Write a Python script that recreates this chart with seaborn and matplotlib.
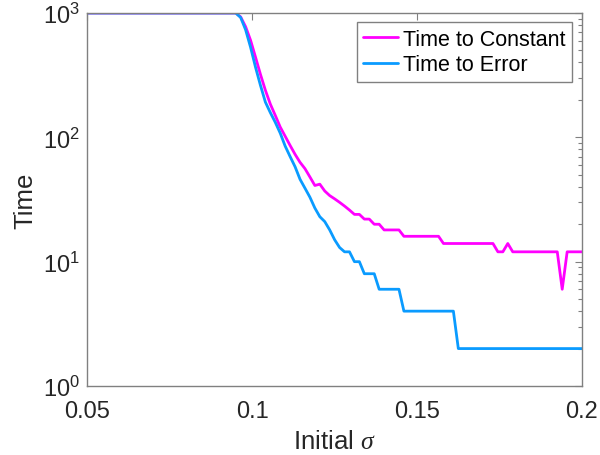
import numpy as np
import pandas as pd
import matplotlib
matplotlib.use("Agg")
import matplotlib.pyplot as plt
import matplotlib.ticker as mticker
import seaborn as sns

# Initial sigma values of the sweep (101 runs from 0.05 to 0.2)
sigma = np.linspace(0.05, 0.2, 101)

# Steps until the state stops changing
time_to_constant = [
    1000, 1000, 1000, 1000, 1000, 1000, 1000, 1000, 1000, 1000,
    1000, 1000, 1000, 1000, 1000, 1000, 1000, 1000, 1000, 1000,
    1000, 1000, 1000, 1000, 1000, 1000, 1000, 1000, 1000, 1000,
    1000, 930, 776, 604, 442, 321, 239, 185, 150, 121,
    102, 86, 73, 63, 56, 48, 41, 42, 37, 34,
    32, 30, 28, 26, 24, 24, 22, 22, 20, 20,
    18, 18, 18, 18, 16, 16, 16, 16, 16, 16,
    16, 16, 14, 14, 14, 14, 14, 14, 14, 14,
    14, 14, 14, 12, 12, 14, 12, 12, 12, 12,
    12, 12, 12, 12, 12, 12, 6, 12, 12, 12,
    12,
]

# Steps until the error threshold is reached
time_to_error = [
    1000, 1000, 1000, 1000, 1000, 1000, 1000, 1000, 1000, 1000,
    1000, 1000, 1000, 1000, 1000, 1000, 1000, 1000, 1000, 1000,
    1000, 1000, 1000, 1000, 1000, 1000, 1000, 1000, 1000, 1000,
    1000, 920, 733, 531, 367, 262, 192, 158, 132, 108,
    85, 70, 58, 46, 39, 33, 27, 23, 21, 18,
    15, 13, 12, 12, 10, 10, 8, 8, 8, 6,
    6, 6, 6, 6, 4, 4, 4, 4, 4, 4,
    4, 4, 4, 4, 4, 2, 2, 2, 2, 2,
    2, 2, 2, 2, 2, 2, 2, 2, 2, 2,
    2, 2, 2, 2, 2, 2, 2, 2, 2, 2,
    2,
]

series_names = ["Time to Constant", "Time to Error"]
series_colors = ["#FF00FF", "#0A9BFF"]
x_ticks = [0.05, 0.1, 0.15, 0.2]
x_tick_labels = ["0.05", "0.1", "0.15", "0.2"]

df = pd.concat([
    pd.DataFrame({"sigma": sigma, "time": time_to_constant, "series": series_names[0]}),
    pd.DataFrame({"sigma": sigma, "time": time_to_error, "series": series_names[1]}),
], ignore_index=True)

sns.set_theme(style="white")
plt.rcParams["font.family"] = ["Liberation Sans", "DejaVu Sans"]
plt.rcParams["mathtext.fontset"] = "custom"
plt.rcParams["mathtext.rm"] = "Liberation Sans"
plt.rcParams["mathtext.it"] = "Liberation Serif:italic"
plt.rcParams["mathtext.default"] = "it"

fig = plt.figure(figsize=(6.0, 4.56), dpi=100)
ax = fig.add_axes([0.1455, 0.1513, 0.8245, 0.818])

sns.lineplot(
    data=df, x="sigma", y="time", hue="series",
    hue_order=series_names, palette=series_colors,
    estimator=None, sort=False, linewidth=2.0, ax=ax,
)

ax.set_yscale("log")
ax.set_xlim(0.05, 0.2)
ax.set_ylim(1, 1000)
ax.set_xticks(x_ticks)
ax.set_xticklabels(x_tick_labels)
ax.yaxis.set_major_locator(mticker.LogLocator(base=10, numticks=10))
ax.yaxis.set_minor_locator(mticker.LogLocator(base=10, subs=np.arange(2, 10), numticks=20))
ax.yaxis.set_minor_formatter(mticker.NullFormatter())
ax.xaxis.set_minor_locator(mticker.NullLocator())

axis_gray = "#808080"
text_col = "#262626"
for s in ax.spines.values():
    s.set_visible(True)
    s.set_color(axis_gray)
    s.set_linewidth(1.0)

ax.tick_params(which="both", direction="in", top=True, right=True,
               color=axis_gray, labelcolor=text_col, width=0.8)
ax.tick_params(which="major", length=5, labelsize=17)
ax.tick_params(axis="y", which="major", pad=5)
ax.tick_params(axis="x", which="major", pad=10)
ax.tick_params(which="minor", length=3)

ax.set_xlabel("Initial $\\sigma$", fontsize=18.5, color=text_col, labelpad=5)
ax.set_ylabel("Time", fontsize=18.5, color=text_col, labelpad=4)

leg = ax.legend(
    loc="upper right", bbox_to_anchor=(0.98, 0.975),
    fontsize=15.5, frameon=True, fancybox=False, framealpha=1,
    edgecolor=axis_gray, handlelength=1.6, handletextpad=0.25,
    borderpad=0.3, labelspacing=0.2, borderaxespad=0,
)
leg.get_frame().set_linewidth(1.0)
for t in leg.get_texts():
    t.set_color("black")

fig.savefig("out.png", dpi=100)
